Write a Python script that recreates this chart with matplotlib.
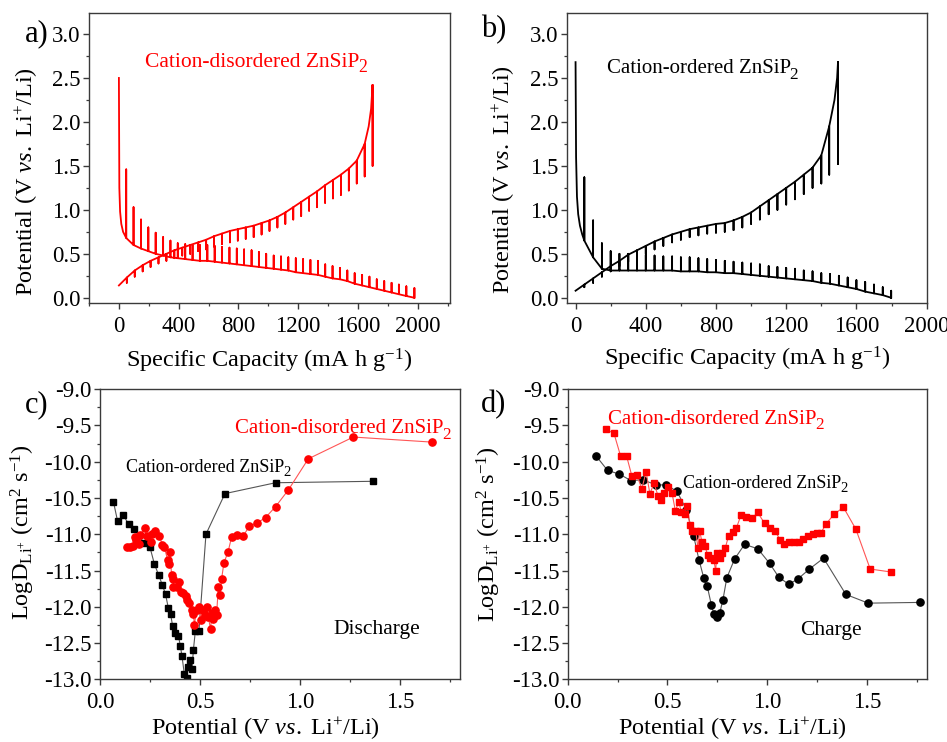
import matplotlib as mpl

mpl.use("Agg")
import matplotlib.pyplot as plt
from matplotlib.ticker import MultipleLocator, FormatStrFormatter

plt.rcParams["font.family"] = "Liberation Serif"
plt.rcParams["mathtext.fontset"] = "custom"
plt.rcParams["mathtext.rm"] = "Liberation Serif"
plt.rcParams["mathtext.it"] = "Liberation Serif:italic"
plt.rcParams["axes.unicode_minus"] = False

# ---- panel a: cation-disordered ZnSiP2, GITT (mA h/g, V) ----
a_dis_cap = [0, 3, 8, 16, 28, 49, 98, 148, 197, 246, 296, 345, 394, 444, 493, 542, 592,
             641, 690, 740, 789, 838, 888, 937, 986, 1036, 1085, 1134, 1184, 1233, 1282,
             1332, 1381, 1430, 1480, 1529, 1578, 1628, 1677, 1726, 1776, 1825, 1874,
             1924, 1978]
a_dis_ccv = [2.50, 1.25, 0.98, 0.84, 0.75, 0.68, 0.60, 0.56, 0.53, 0.50, 0.48, 0.46, 0.45,
             0.44, 0.43, 0.42, 0.42, 0.41, 0.40, 0.39, 0.38, 0.37, 0.36, 0.35, 0.34, 0.33,
             0.32, 0.31, 0.29, 0.28, 0.27, 0.26, 0.24, 0.22, 0.21, 0.19, 0.16, 0.14, 0.12,
             0.10, 0.08, 0.06, 0.04, 0.02, 0.00]
a_dis_ocv = [2.50, 1.25, 0.98, 0.84, 0.75, 1.46, 1.03, 0.89, 0.80, 0.74, 0.69, 0.65, 0.62,
             0.61, 0.60, 0.60, 0.60, 0.59, 0.58, 0.57, 0.56, 0.55, 0.54, 0.52, 0.50, 0.48,
             0.47, 0.46, 0.45, 0.44, 0.43, 0.42, 0.38, 0.36, 0.34, 0.31, 0.28, 0.26, 0.24,
             0.21, 0.19, 0.17, 0.15, 0.13, 0.11]
a_chg_cap = [0, 53, 106, 159, 212, 265, 318, 371, 424, 477, 531, 584, 637, 690, 743, 796,
             849, 902, 955, 1008, 1061, 1114, 1167, 1220, 1273, 1326, 1380, 1433, 1486,
             1539, 1592, 1645, 1672, 1688, 1698]
a_chg_ccv = [0.14, 0.23, 0.31, 0.37, 0.42, 0.46, 0.50, 0.54, 0.57, 0.60, 0.63, 0.66, 0.70,
             0.73, 0.76, 0.78, 0.80, 0.82, 0.85, 0.88, 0.92, 0.97, 1.03, 1.09, 1.15, 1.21,
             1.28, 1.34, 1.40, 1.47, 1.56, 1.75, 1.95, 2.15, 2.42]
a_chg_ocv = [0.14, 0.17, 0.24, 0.30, 0.35, 0.39, 0.42, 0.45, 0.48, 0.50, 0.53, 0.55, 0.58,
             0.61, 0.63, 0.65, 0.67, 0.69, 0.72, 0.76, 0.80, 0.84, 0.89, 0.93, 0.99, 1.03,
             1.08, 1.13, 1.17, 1.22, 1.30, 1.38, 1.95, 2.15, 1.50]

# ---- panel b: cation-ordered ZnSiP2, GITT ----
b_dis_cap = [0, 3, 8, 15, 25, 38, 50, 100, 150, 200, 250, 300, 350, 400, 450, 500, 550,
             600, 650, 700, 750, 800, 850, 900, 950, 1000, 1050, 1100, 1150, 1200, 1250,
             1300, 1350, 1400, 1450, 1500, 1550, 1600, 1650, 1700, 1750, 1798]
b_dis_ccv = [2.68, 1.60, 1.15, 0.95, 0.82, 0.72, 0.65, 0.46, 0.33, 0.31, 0.31, 0.31, 0.31,
             0.31, 0.31, 0.31, 0.31, 0.30, 0.30, 0.30, 0.29, 0.29, 0.28, 0.28, 0.27, 0.26,
             0.25, 0.24, 0.23, 0.22, 0.21, 0.20, 0.19, 0.17, 0.16, 0.14, 0.12, 0.10, 0.07,
             0.05, 0.03, 0.00]
b_dis_ocv = [2.68, 1.60, 1.15, 0.95, 0.82, 0.72, 1.37, 0.88, 0.62, 0.53, 0.50, 0.50, 0.49,
             0.49, 0.48, 0.47, 0.47, 0.46, 0.46, 0.45, 0.44, 0.43, 0.42, 0.41, 0.40, 0.39,
             0.38, 0.36, 0.35, 0.34, 0.33, 0.31, 0.30, 0.28, 0.27, 0.25, 0.23, 0.20, 0.18,
             0.15, 0.12, 0.08]
b_chg_cap = [0, 50, 100, 150, 200, 250, 300, 350, 400, 450, 500, 550, 600, 650, 700, 750,
             800, 850, 900, 950, 1000, 1050, 1100, 1150, 1200, 1250, 1300, 1350, 1400,
             1445, 1475, 1490, 1495]
b_chg_ccv = [0.08, 0.15, 0.22, 0.29, 0.36, 0.42, 0.49, 0.54, 0.59, 0.64, 0.68, 0.72, 0.75,
             0.78, 0.80, 0.82, 0.84, 0.85, 0.88, 0.92, 0.97, 1.04, 1.11, 1.18, 1.25, 1.32,
             1.40, 1.48, 1.62, 1.95, 2.25, 2.50, 2.68]
b_chg_ocv = [0.08, 0.12, 0.17, 0.24, 0.30, 0.36, 0.41, 0.46, 0.50, 0.55, 0.59, 0.63, 0.66,
             0.69, 0.71, 0.73, 0.74, 0.75, 0.77, 0.80, 0.84, 0.89, 0.95, 1.00, 1.06, 1.12,
             1.18, 1.25, 1.30, 1.40, 2.25, 2.50, 1.52]

# ---- panel c: discharge diffusion coefficients (V, log D) ----
c_ord_v = [0.067, 0.088, 0.117, 0.143, 0.172, 0.220, 0.250, 0.272, 0.293, 0.312, 0.328,
           0.342, 0.353, 0.363, 0.375, 0.392, 0.402, 0.410, 0.422, 0.433, 0.442, 0.450,
           0.460, 0.467, 0.477, 0.495, 0.530, 0.625, 0.878, 1.367]
c_ord_d = [-10.55, -10.82, -10.74, -10.86, -10.93, -11.12, -11.18, -11.41, -11.56, -11.70,
           -11.83, -12.02, -12.10, -12.26, -12.36, -12.40, -12.54, -12.68, -12.93, -12.98,
           -12.83, -12.74, -12.86, -12.60, -12.33, -12.33, -11.00, -10.44, -10.29, -10.27]
c_dis_v = [0.135, 0.150, 0.163, 0.180, 0.175, 0.193, 0.200, 0.225, 0.233, 0.253, 0.258,
           0.275, 0.297, 0.312, 0.322, 0.338, 0.343, 0.350, 0.358, 0.367, 0.367, 0.383,
           0.395, 0.403, 0.417, 0.430, 0.437, 0.447, 0.458, 0.467, 0.472, 0.483, 0.497,
           0.505, 0.517, 0.527, 0.537, 0.542, 0.553, 0.560, 0.567, 0.575, 0.583, 0.592,
           0.600, 0.608, 0.620, 0.640, 0.658, 0.687, 0.717, 0.747, 0.783, 0.828, 0.878,
           0.942, 1.042, 1.267, 1.662]
c_dis_d = [-11.18, -11.17, -11.16, -11.08, -11.04, -11.13, -11.01, -10.91, -11.03, -11.11,
           -10.99, -10.96, -11.02, -11.15, -11.18, -11.35, -11.41, -11.25, -11.56, -11.62,
           -11.73, -11.73, -11.66, -11.80, -11.81, -11.85, -11.91, -11.95, -12.04, -12.10,
           -12.25, -12.04, -12.00, -12.18, -12.05, -12.11, -12.01, -12.14, -12.31, -12.09,
           -12.17, -12.04, -12.11, -11.73, -11.84, -11.62, -11.39, -11.25, -11.04, -11.01,
           -11.02, -10.89, -10.85, -10.77, -10.62, -10.39, -9.96, -9.66, -9.73]

# ---- panel d: charge diffusion coefficients ----
d_ord_v = [0.142, 0.200, 0.258, 0.317, 0.375, 0.445, 0.495, 0.548, 0.595, 0.632, 0.658,
           0.683, 0.700, 0.720, 0.733, 0.748, 0.762, 0.778, 0.798, 0.837, 0.887, 0.953,
           1.012, 1.058, 1.108, 1.153, 1.212, 1.283, 1.395, 1.507, 1.765]
d_ord_d = [-9.92, -10.12, -10.17, -10.26, -10.25, -10.32, -10.32, -10.41, -10.66, -11.03,
           -11.35, -11.61, -11.72, -11.97, -12.10, -12.14, -12.09, -11.91, -11.60, -11.34,
           -11.14, -11.20, -11.40, -11.59, -11.69, -11.62, -11.48, -11.33, -11.83, -11.95,
           -11.94]
d_dis_v = [0.190, 0.232, 0.265, 0.295, 0.322, 0.345, 0.372, 0.393, 0.412, 0.433, 0.453,
           0.468, 0.485, 0.503, 0.523, 0.540, 0.557, 0.570, 0.587, 0.600, 0.612, 0.623,
           0.642, 0.653, 0.662, 0.673, 0.687, 0.703, 0.715, 0.732, 0.742, 0.748, 0.762,
           0.773, 0.790, 0.807, 0.828, 0.845, 0.870, 0.895, 0.925, 0.953, 0.987, 1.015,
           1.040, 1.065, 1.087, 1.112, 1.137, 1.158, 1.178, 1.203, 1.228, 1.250, 1.270,
           1.295, 1.337, 1.383, 1.445, 1.517, 1.620]
d_dis_d = [-9.55, -9.61, -9.92, -9.92, -10.20, -10.18, -10.37, -10.14, -10.44, -10.30,
           -10.47, -10.53, -10.43, -10.35, -10.43, -10.68, -10.55, -10.70, -10.72, -10.61,
           -10.87, -10.96, -10.95, -11.19, -10.95, -11.11, -11.16, -11.29, -11.33, -11.35,
           -11.50, -11.26, -11.33, -11.26, -11.19, -11.02, -10.97, -10.92, -10.73, -10.76,
           -10.78, -10.70, -10.85, -10.91, -10.95, -11.08, -11.13, -11.11, -11.11, -11.11,
           -11.07, -11.02, -10.99, -10.98, -10.98, -10.86, -10.72, -10.63, -10.93, -11.48,
           -11.52]

RED = "#ff0000"
FRAME = "#3a3a3a"
TICK_FS = 16.5
LABEL_FS = 17.5
POT_LABEL = r"Potential (V $\it{vs.}$ Li$^{+}$/Li)"
CAP_LABEL = r"Specific Capacity (mA h g$^{-1}$)"
LOGD_LABEL = r"LogD$_{\mathrm{Li}^{+}}$ (cm$^{2}$ s$^{-1}$)"


def gitt_path(cap, ccv, ocv):
    # each step: closed-circuit value, vertical relaxation, back to the curve
    xs, ys = [], []
    for c, v, r in zip(cap, ccv, ocv):
        xs += [c, c, c]
        ys += [v, r, v]
    return xs, ys


def style_axes(ax):
    for side in ax.spines.values():
        side.set_color(FRAME)
        side.set_linewidth(1.0)
    ax.tick_params(which="both", direction="out", top=False, right=False,
                   colors=FRAME, labelcolor="black", labelsize=TICK_FS)
    ax.tick_params(which="major", length=4, width=1.0)
    ax.tick_params(which="minor", length=2.2, width=0.9)
    ax.tick_params(axis="x", pad=5)
    ax.tick_params(axis="y", pad=2)


def compound_label(ax, x, y, name, color, fs):
    # Origin-style subscript: large "2" dropped below the baseline
    t = ax.text(x, y, name + " ZnSiP", color=color, fontsize=fs,
                transform=ax.transAxes, va="baseline")
    ax.annotate("2", xy=(1, 0), xycoords=t, xytext=(-0.8, -0.02 * fs),
                textcoords="offset points", color=color, fontsize=fs * 0.82,
                va="baseline", ha="left")


fig = plt.figure(figsize=(9.47, 7.42), dpi=100)
ax_a = fig.add_axes([0.094, 0.5916, 0.381, 0.391])
ax_b = fig.add_axes([0.5985, 0.5916, 0.380, 0.391])
ax_c = fig.add_axes([0.1056, 0.0845, 0.380, 0.391])
ax_d = fig.add_axes([0.5995, 0.0845, 0.379, 0.391])

# GITT panels
for ax, dis, chg, col in [
    (ax_a, (a_dis_cap, a_dis_ccv, a_dis_ocv), (a_chg_cap, a_chg_ccv, a_chg_ocv), RED),
    (ax_b, (b_dis_cap, b_dis_ccv, b_dis_ocv), (b_chg_cap, b_chg_ccv, b_chg_ocv), "black"),
]:
    ax.plot(*gitt_path(*dis), color=col, lw=1.3)
    ax.plot(*gitt_path(*chg), color=col, lw=1.3)
    ax.set_ylim(-0.06, 3.24)
    ax.yaxis.set_major_locator(MultipleLocator(0.5))
    ax.yaxis.set_minor_locator(MultipleLocator(0.25))
    ax.xaxis.set_major_locator(MultipleLocator(400))
    ax.xaxis.set_minor_locator(MultipleLocator(200))
    ax.yaxis.set_major_formatter(FormatStrFormatter("%.1f"))
    ax.set_xlabel(CAP_LABEL, fontsize=LABEL_FS)
    ax.set_ylabel(POT_LABEL, fontsize=LABEL_FS)
    style_axes(ax)

ax_a.set_xlim(-200, 2215)
ax_b.set_xlim(-50, 2000)

ax_a.xaxis.set_label_coords(0.498, -0.15)
ax_b.xaxis.set_label_coords(0.50, -0.145)
ax_a.yaxis.set_label_coords(-0.136, 0.42)
ax_b.yaxis.set_label_coords(-0.139, 0.424)

compound_label(ax_a, 0.155, 0.815, "Cation-disordered", RED, 15.5)
compound_label(ax_b, 0.111, 0.792, "Cation-ordered", "black", 15)

# diffusion panels
ax_c.plot(c_ord_v, c_ord_d, color="#555555", lw=0.8, marker="s", ms=4.5,
          mfc="black", mec="black")
ax_c.plot(c_dis_v, c_dis_d, color="#ff5555", lw=0.8, marker="o", ms=5.2,
          mfc=RED, mec=RED)
ax_d.plot(d_ord_v, d_ord_d, color="#555555", lw=0.8, marker="o", ms=5.2,
          mfc="black", mec="black")
ax_d.plot(d_dis_v, d_dis_d, color="#ff5555", lw=0.8, marker="s", ms=4.5,
          mfc=RED, mec=RED)

for ax in (ax_c, ax_d):
    ax.set_xlim(0, 1.8)
    ax.set_ylim(-13, -9)
    ax.xaxis.set_major_locator(MultipleLocator(0.5))
    ax.xaxis.set_minor_locator(MultipleLocator(0.25))
    ax.yaxis.set_major_locator(MultipleLocator(0.5))
    ax.yaxis.set_minor_locator(MultipleLocator(0.25))
    ax.xaxis.set_major_formatter(FormatStrFormatter("%.1f"))
    ax.yaxis.set_major_formatter(FormatStrFormatter("%.1f"))
    ax.set_xlabel(POT_LABEL, fontsize=LABEL_FS)
    ax.set_ylabel(LOGD_LABEL, fontsize=LABEL_FS)
    style_axes(ax)

ax_c.xaxis.set_label_coords(0.46, -0.125)
ax_d.xaxis.set_label_coords(0.458, -0.125)
ax_c.yaxis.set_label_coords(-0.175, 0.506)
ax_d.yaxis.set_label_coords(-0.179, 0.50)

compound_label(ax_c, 0.375, 0.848, "Cation-disordered", RED, 15)
compound_label(ax_c, 0.072, 0.715, "Cation-ordered", "black", 13)
ax_c.text(0.648, 0.17, "Discharge", fontsize=15.5, transform=ax_c.transAxes, va="center")

compound_label(ax_d, 0.111, 0.88, "Cation-disordered", RED, 15)
compound_label(ax_d, 0.322, 0.661, "Cation-ordered", "black", 13)
ax_d.text(0.648, 0.168, "Charge", fontsize=15.5, transform=ax_d.transAxes, va="center")

# panel letters
for label, x, y in [("a)", 0.026, 0.955), ("b)", 0.508, 0.96),
                    ("c)", 0.026, 0.455), ("d)", 0.508, 0.455)]:
    fig.text(x, y, label, fontsize=22, va="center")

fig.savefig("out.png", dpi=100)
plt.close(fig)
